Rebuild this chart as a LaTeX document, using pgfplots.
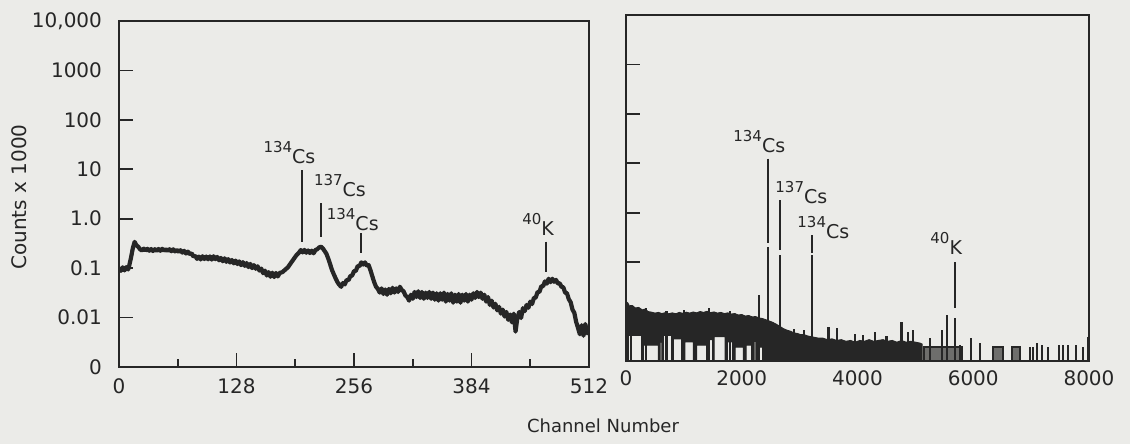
\documentclass[border=0pt]{standalone}
\usepackage{fontspec}
\setmainfont{DejaVu Sans}
\usepackage{pgfplots}
\pgfplotsset{compat=1.18}
\definecolor{ink}{RGB}{38,38,38}
\definecolor{paper}{RGB}{235,235,232}
\definecolor{boxgray}{RGB}{110,110,108}
\newcommand{\iso}[2]{{\fontsize{7.5}{8}\selectfont\raisebox{5.5pt}{#1}}#2}
\tikzset{ann/.style={anchor=base west, inner sep=0pt, text=ink, font=\fontsize{9.5}{11}\selectfont}}
\begin{document}
\begin{tikzpicture}
\fill[paper] (0,0) rectangle (565pt,222pt);
\useasboundingbox (0,0) rectangle (565pt,222pt);

% ---------------- left panel ----------------
\begin{axis}[scale only axis, height=173pt, width=235pt,
  anchor=south west, at={(59.5pt,38.5pt)},
  ymode=log, ymin=1e-3, ymax=1e4,
  axis line style={line width=1.2pt, draw=ink},
  tick style={line width=0.8pt, draw=ink},
  tick align=inside,
  xtick pos=bottom, ytick pos=left,
  ytick={1e-3,1e-2,1e-1,1,10,100,1000,10000},
  yminorticks=false,
  major tick length=7pt, minor tick length=4pt,
  tick label style={font=\fontsize{10}{12}\selectfont, text=ink},
  xmin=0, xmax=512,
  xtick={0,128,256,384,512}, xticklabels={0,128,256,384,512},
  minor xtick={64,192,320,448},
  yticklabels={0,0.01,0.1,1.0,10,100,1000,{10,000}},
  yticklabel style={xshift=-5pt},
  xticklabel style={yshift=-2.5pt},
]
\addplot[ink, line width=2.1pt, line join=round] coordinates {
(0,0.098)(2,0.088)(4,0.104)(6,0.090)(8,0.105)(10,0.094)(11,0.110)(13,0.16)(15,0.25)
(17,0.34)(19,0.29)(21,0.27)(23,0.24)(25,0.228)(27,0.248)(29,0.228)(31,0.246)
(33,0.225)(35,0.243)(37,0.222)(39,0.242)(41,0.224)(43,0.244)(45,0.225)(47,0.246)
(49,0.226)(51,0.242)(53,0.223)(55,0.241)(57,0.220)(59,0.240)(61,0.218)(63,0.234)
(65,0.214)(67,0.230)(69,0.206)(71,0.224)(73,0.198)(75,0.216)(77,0.192)(79,0.200)
(81,0.172)(83,0.178)(85,0.154)(87,0.171)(89,0.150)(91,0.174)(93,0.153)(95,0.172)
(97,0.151)(99,0.173)(101,0.149)(103,0.174)(105,0.152)(107,0.169)(109,0.144)
(111,0.161)(113,0.138)(115,0.158)(117,0.134)(119,0.152)(121,0.130)(123,0.146)
(125,0.125)(127,0.142)(129,0.121)(131,0.137)(133,0.115)(135,0.132)(137,0.111)
(139,0.127)(141,0.105)(143,0.122)(145,0.100)(147,0.115)(149,0.097)(151,0.109)
(153,0.089)(155,0.098)(157,0.079)(159,0.089)(161,0.071)(163,0.083)(165,0.067)
(167,0.081)(169,0.066)(171,0.080)(173,0.068)(175,0.080)(178,0.083)(181,0.093)
(184,0.104)(187,0.125)(190,0.150)(193,0.180)(196,0.205)(198,0.232)(200,0.208)
(202,0.234)(204,0.205)(206,0.228)(208,0.202)(210,0.226)(212,0.200)(214,0.232)
(216,0.242)(218,0.262)(220,0.272)(222,0.252)(224,0.222)(226,0.195)(228,0.155)
(230,0.120)(232,0.092)(234,0.075)(236,0.062)(238,0.052)(240,0.046)(242,0.042)
(244,0.050)(246,0.047)(248,0.058)(250,0.057)(252,0.069)(254,0.071)(256,0.087)
(258,0.088)(260,0.110)(262,0.110)(264,0.131)(266,0.118)(268,0.131)(270,0.112)
(272,0.115)(274,0.090)(276,0.068)(278,0.052)(280,0.042)(282,0.038)
(284,0.032)(286,0.039)(288,0.030)(290,0.037)(292,0.029)(294,0.038)(296,0.031)
(298,0.040)(300,0.032)(302,0.039)(304,0.033)(306,0.042)(308,0.036)(310,0.034)
(312,0.028)(314,0.026)(316,0.022)(318,0.029)(320,0.024)(322,0.033)(324,0.026)
(326,0.034)(328,0.025)(330,0.033)(332,0.024)(334,0.032)(336,0.025)(338,0.033)
(340,0.024)(342,0.032)(344,0.023)(346,0.031)(348,0.022)(350,0.031)(352,0.023)
(354,0.032)(356,0.021)(358,0.030)(360,0.022)(362,0.031)(364,0.020)(366,0.029)
(368,0.021)(370,0.030)(372,0.020)(374,0.029)(376,0.022)(378,0.030)(380,0.021)
(382,0.029)(384,0.023)(386,0.031)(388,0.025)(390,0.033)(392,0.026)(394,0.032)
(396,0.024)(398,0.029)(400,0.021)(402,0.026)(404,0.018)(406,0.022)(408,0.016)
(410,0.019)(412,0.014)(414,0.0165)(416,0.012)(418,0.0145)(420,0.0105)(422,0.013)
(424,0.0090)(426,0.0115)(428,0.0080)(430,0.0120)(432,0.0052)(434,0.0100)
(436,0.0130)(438,0.0098)(440,0.0155)(442,0.0135)(444,0.0180)(446,0.0158)
(448,0.0210)(450,0.0188)(452,0.0250)(454,0.0255)(456,0.0330)(458,0.0330)
(460,0.0430)(462,0.0430)(464,0.0540)(466,0.0485)(468,0.0610)(470,0.0520)
(472,0.0610)(474,0.0530)(476,0.0580)(478,0.0490)(480,0.0495)(482,0.0420)
(484,0.0410)(486,0.0320)(488,0.0310)(490,0.0235)(492,0.0205)(494,0.0145)
(496,0.0125)(498,0.0082)(500,0.0062)(502,0.0046)(504,0.0070)(506,0.0043)
(508,0.0074)(510,0.0048)(512,0.0064)
};
\draw[ink, line width=1pt] (axis cs:199,9.66) -- (axis cs:199,0.343);
\draw[ink, line width=1pt] (axis cs:220,2.05) -- (axis cs:220,0.42);
\draw[ink, line width=1pt] (axis cs:264,0.506) -- (axis cs:264,0.2);
\draw[ink, line width=1pt] (axis cs:465,0.343) -- (axis cs:465,0.085);
\node[ann] at (axis cs:157,13.2) {\iso{134}{Cs}};
\node[ann] at (axis cs:212,2.79) {\iso{137}{Cs}};
\node[ann] at (axis cs:226,0.59) {\iso{134}{Cs}};
\node[ann] at (axis cs:439,0.468) {\iso{40}{K}};
\end{axis}

% ---------------- right panel ----------------
\begin{axis}[scale only axis, height=173pt, width=231.5pt,
  anchor=south west, at={(313pt,41.5pt)},
  ymode=log, ymin=1e-3, ymax=1e4,
  axis line style={line width=1.2pt, draw=ink},
  tick style={line width=0.8pt, draw=ink},
  tick align=inside,
  xtick pos=bottom, ytick pos=left,
  ytick={1e-3,1e-2,1e-1,1,10,100,1000,10000},
  yminorticks=false, xminorticks=false,
  major tick length=7pt,
  tick label style={font=\fontsize{10}{12}\selectfont, text=ink},
  xmin=0, xmax=8000,
  xtick={0,2000,4000,6000,8000}, xticklabels={0,2000,4000,6000,8000},
  xtick style={draw=none},
  yticklabels={},
  xticklabel style={yshift=-1.5pt},
  log origin y=infty,
]
\addplot[fill=ink, draw=ink, line width=0.5pt] coordinates {
(0,0.0158)(30,0.0150)(60,0.0128)(110,0.0132)(160,0.0118)(220,0.0121)(280,0.0108)
(330,0.0112)(380,0.0100)(440,0.0097)(500,0.0093)(560,0.0096)(620,0.0091)(680,0.0095)
(740,0.0090)(800,0.0094)(860,0.0090)(920,0.0096)(980,0.0092)(1040,0.0097)(1100,0.0093)
(1160,0.0098)(1220,0.0094)(1280,0.0100)(1340,0.0096)(1400,0.0101)(1460,0.0095)
(1520,0.0098)(1580,0.0093)(1640,0.0096)(1700,0.0091)(1760,0.0094)(1820,0.0089)
(1880,0.0091)(1940,0.0085)(2000,0.0087)(2060,0.0081)(2120,0.0083)(2180,0.0078)
(2240,0.0079)(2300,0.0074)(2360,0.0072)(2420,0.0068)(2480,0.0064)(2540,0.0060)
(2600,0.0055)(2660,0.0050)(2720,0.0045)(2780,0.0042)(2840,0.0040)(2900,0.0037)
(2960,0.0036)(3020,0.0034)(3080,0.0034)(3140,0.0032)(3200,0.0031)(3260,0.0030)
(3320,0.0029)(3400,0.0029)(3480,0.0027)(3560,0.0028)(3640,0.0026)(3720,0.0027)
(3800,0.0025)(3880,0.0026)(3960,0.0024)(4040,0.0026)(4120,0.0025)(4200,0.0027)
(4280,0.0025)(4360,0.0026)(4440,0.0027)(4520,0.0025)(4600,0.0026)(4680,0.0024)
(4760,0.0026)(4840,0.0024)(4920,0.0025)(5000,0.0024)(5080,0.0023)(5115,0.0022)
(5115,0.001)(2362,0.001)(2362,0.0019)(2287,0.0019)(2287,0.001)(2246,0.001)
(2246,0.0025)(2212,0.0025)(2212,0.001)(2172,0.001)(2172,0.0021)(2074,0.0021)
(2074,0.001)(2027,0.001)(2027,0.0019)(1884,0.0019)(1884,0.001)(1843,0.001)
(1843,0.00245)(1751,0.00245)(1751,0.001)(1711,0.001)(1711,0.0031)(1521,0.0031)
(1521,0.001)(1498,0.001)(1498,0.0027)(1423,0.0027)(1423,0.001)(1394,0.001)
(1394,0.0021)(1221,0.0021)(1221,0.001)(1163,0.001)(1163,0.00245)(1019,0.00245)
(1019,0.001)(962,0.001)(962,0.0028)(818,0.0028)(818,0.001)(789,0.001)(789,0.0033)
(645,0.0033)(645,0.001)(620,0.001)(620,0.0024)(590,0.0024)(590,0.001)(559,0.001)
(559,0.0021)(300,0.0021)(300,0.001)(271,0.001)(271,0.0033)(40,0.0033)(40,0.001)
(0,0.001)
} -- cycle;
\addplot[fill=boxgray, draw=ink, line width=0.9pt] coordinates {
(5150,0.001)(5150,0.0019)(5800,0.0019)(5800,0.001)} -- cycle;
\addplot[fill=boxgray, draw=ink, line width=0.9pt] coordinates {
(6347,0.001)(6347,0.0019)(6520,0.0019)(6520,0.001)} -- cycle;
\addplot[fill=boxgray, draw=ink, line width=0.9pt] coordinates {
(6664,0.001)(6664,0.0019)(6808,0.0019)(6808,0.001)} -- cycle;
\addplot[ycomb, ink, line width=1.1pt] coordinates {
(0,0.0158)(90,0.0135)(340,0.0117)(700,0.0104)(1000,0.0108)(1440,0.0116)(1800,0.0102)
(2298,0.0217)(2454,0.20)(2661,0.137)(3214,0.137)(2900,0.0045)(3080,0.0042)
(3500,0.0049)(3650,0.0047)(3950,0.0036)(4100,0.0033)(4300,0.0039)(4500,0.0032)
(4760,0.0062)(4870,0.0038)(4960,0.0042)(5253,0.0029)(5455,0.0043)(5540,0.0085)
(5680,0.0074)(5771,0.0021)(5956,0.0029)(6117,0.0023)(6981,0.0019)(7039,0.0019)
(7097,0.0023)(7183,0.0021)(7298,0.0019)(7488,0.0021)(7557,0.0021)(7643,0.0021)
(7776,0.0021)(7902,0.0019)(7985,0.0031)
};
\draw[ink, line width=1pt] (axis cs:2454,12.4) -- (axis cs:2454,0.24);
\draw[ink, line width=1pt] (axis cs:2661,1.77) -- (axis cs:2661,0.173);
\draw[ink, line width=1pt] (axis cs:3214,0.35) -- (axis cs:3214,0.15);
\draw[ink, line width=1pt] (axis cs:5680,0.099) -- (axis cs:5680,0.0117);
\node[ann] at (axis cs:1849,16.4) {\iso{134}{Cs}};
\node[ann] at (axis cs:2575,1.54) {\iso{137}{Cs}};
\node[ann] at (axis cs:2955,0.303) {\iso{134}{Cs}};
\node[ann] at (axis cs:5253,0.144) {\iso{40}{K}};
\end{axis}

\node[rotate=90, text=ink, font=\fontsize{10}{12}\selectfont] at (9.5pt,123.5pt) {Counts x 1000};
\node[text=ink, font=\fontsize{9}{11}\selectfont] at (301.5pt,9pt) {Channel Number};
\end{tikzpicture}
\end{document}
